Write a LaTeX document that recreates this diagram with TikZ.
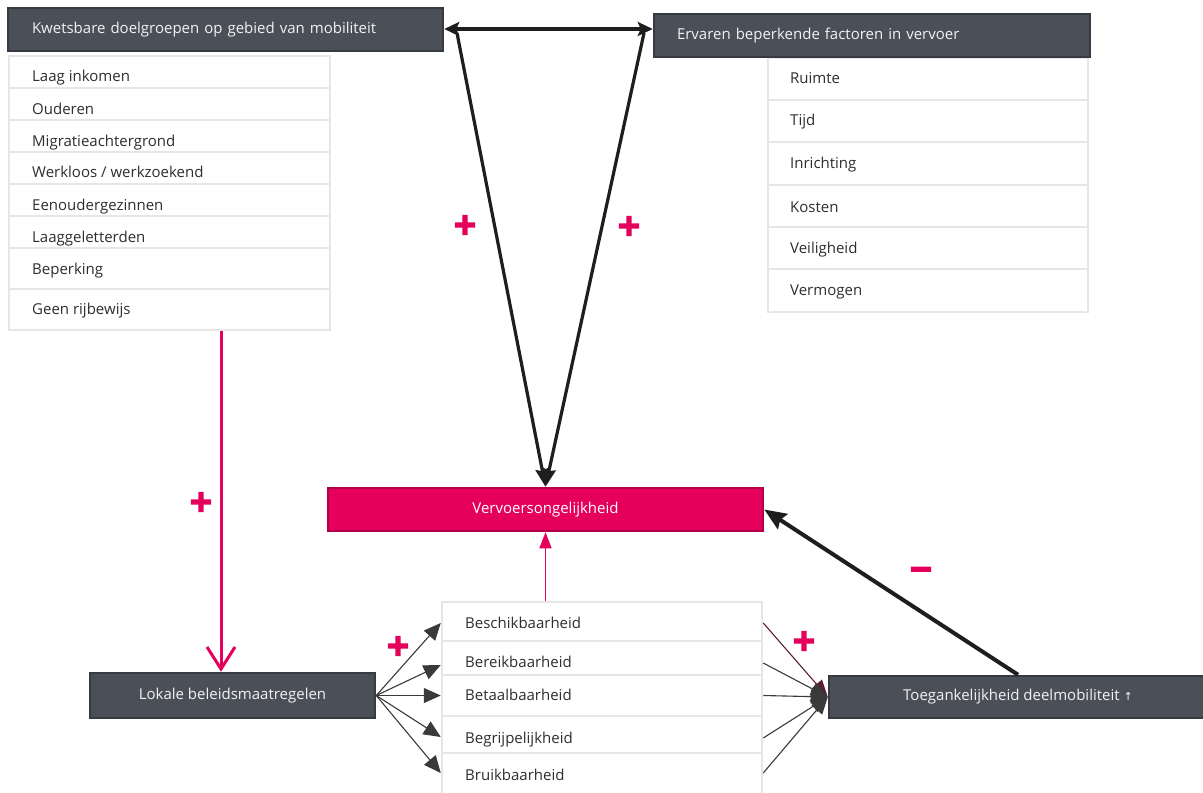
\documentclass[tikz,border=0pt]{standalone}
\usepackage{fontspec}
\setmainfont{Open Sans}
\newfontfamily\symfont{DejaVu Sans}
\newfontfamily\signfont{DejaVu Sans Bold}[FakeBold=7]
\usetikzlibrary{arrows.meta}
\definecolor{darkfill}{HTML}{4B5058}
\definecolor{darkedge}{HTML}{373B41}
\definecolor{boxtext}{HTML}{F2F2F2}
\definecolor{pinkc}{HTML}{E4005B}
\definecolor{pinkedge}{HTML}{B3004A}
\definecolor{listgray}{HTML}{E6E6E6}
\definecolor{listtext}{HTML}{2E2E2E}
\definecolor{arrowc}{HTML}{1E1E1E}
\definecolor{thinc}{HTML}{3A3A3A}
\definecolor{maroon}{HTML}{5A1E32}
\begin{document}
\begin{tikzpicture}[x=1pt,y=-1pt,
  every node/.style={font=\fontsize{15}{18}\selectfont},
  darkbox/.style={draw=darkedge, line width=2.5pt, fill=darkfill, text=boxtext, inner ysep=0pt},
  pinkbox/.style={draw=pinkedge, line width=2.5pt, fill=pinkc, text=white, inner ysep=0pt},
  rowbox/.style={draw=listgray, line width=2.5pt, fill=white, inner sep=0pt},
  rowtext/.style={anchor=west, text=listtext, inner sep=0pt, text height=10pt, text depth=3pt},
  sign/.style={text=pinkc, inner sep=0pt, font=\signfont\fontsize{29}{29}\selectfont},
  thickarrow/.style={draw=arrowc, line width=3.2pt},
  thinarrow/.style={draw=thinc, line width=1.1pt, -{Triangle[length=17pt,width=15pt]}},
  convarrow/.style={draw=thinc, line width=1.1pt, -{Triangle[length=17pt,width=14pt]}}
]
\useasboundingbox (0,0) rectangle (1203,793);
\clip (0,0) rectangle (1203,793);
\fill[white] (0,0) rectangle (1203,793);

% ---------- left list ----------
\node[rowbox, minimum width=321pt, minimum height=32pt] (l1) at (169.5,72) {};
\node[rowbox, minimum width=321pt, minimum height=32pt] (l2) at (169.5,104) {};
\node[rowbox, minimum width=321pt, minimum height=32pt] (l3) at (169.5,136) {};
\node[rowbox, minimum width=321pt, minimum height=32pt] (l4) at (169.5,168) {};
\node[rowbox, minimum width=321pt, minimum height=32pt] (l5) at (169.5,200) {};
\node[rowbox, minimum width=321pt, minimum height=32pt] (l6) at (169.5,232) {};
\node[rowbox, minimum width=321pt, minimum height=41pt] (l7) at (169.5,268.5) {};
\node[rowbox, minimum width=321pt, minimum height=41pt] (l8) at (169.5,309.5) {};
\node[rowtext] (t1) at (32,78) {Laag inkomen};
\node[rowtext] (t2) at (32,110.5) {Ouderen};
\node[rowtext] (t3) at (32,142.5) {Migratieachtergrond};
\node[rowtext] (t4) at (32,174) {Werkloos / werkzoekend};
\node[rowtext] (t5) at (32,206.5) {Eenoudergezinnen};
\node[rowtext] (t6) at (32,238.5) {Laaggeletterden};
\node[rowtext] (t7) at (32,270.5) {Beperking};
\node[rowtext] (t8) at (32,310.5) {Geen rijbewijs};

% ---------- right list ----------
\node[rowbox, minimum width=320pt, minimum height=42pt] (r1) at (928,79) {};
\node[rowbox, minimum width=320pt, minimum height=42pt] (r2) at (928,121) {};
\node[rowbox, minimum width=320pt, minimum height=43pt] (r3) at (928,163.5) {};
\node[rowbox, minimum width=320pt, minimum height=42pt] (r4) at (928,206) {};
\node[rowbox, minimum width=320pt, minimum height=42pt] (r5) at (928,248) {};
\node[rowbox, minimum width=320pt, minimum height=43pt] (r6) at (928,290.5) {};
\node[rowtext] (s1) at (790,79.5) {Ruimte};
\node[rowtext] (s2) at (790,121.5) {Tijd};
\node[rowtext] (s3) at (790,164.5) {Inrichting};
\node[rowtext] (s4) at (790,208.5) {Kosten};
\node[rowtext] (s5) at (790,249.5) {Veiligheid};
\node[rowtext] (s6) at (790,291.5) {Vermogen};

% ---------- centre list ----------
\node[rowbox, minimum width=320pt, minimum height=39pt] (c1) at (602,621.5) {};
\node[rowbox, minimum width=320pt, minimum height=34pt] (c2) at (602,658) {};
\node[rowbox, minimum width=320pt, minimum height=41pt] (c3) at (602,695.5) {};
\node[rowbox, minimum width=320pt, minimum height=37pt] (c4) at (602,734.5) {};
\node[rowbox, minimum width=320pt, minimum height=57pt] (c5) at (602,781.5) {};
\node[rowtext] (u1) at (465,624.5) {Beschikbaarheid};
\node[rowtext] (u2) at (465,663.5) {Bereikbaarheid};
\node[rowtext] (u3) at (465,696.5) {Betaalbaarheid};
\node[rowtext] (u4) at (465,739.5) {Begrijpelijkheid};
\node[rowtext] (u5) at (465,776.5) {Bruikbaarheid};

% ---------- dark and pink boxes ----------
\node[darkbox, minimum width=435pt, minimum height=43pt, text width=387pt, inner xsep=24pt, align=left] (kw) at (225.5,29.5) {Kwetsbare doelgroepen op gebied van mobiliteit};
\node[darkbox, minimum width=436pt, minimum height=43pt, text width=390pt, inner xsep=23pt, align=left] (erv) at (872,35.5) {Ervaren beperkende factoren in vervoer};
\node[pinkbox, minimum width=435pt, minimum height=43pt] (verv) at (545.5,509.5) {Vervoersongelijkheid};
\node[darkbox, minimum width=285pt, minimum height=45pt] (lok) at (232.5,695.5) {Lokale beleidsmaatregelen};
\node[darkbox, minimum width=378pt, minimum height=42pt] (toeg) at (1018,697) {Toegankelijkheid deelmobiliteit {\symfont\fontsize{11}{13}\selectfont ↑}};

% ---------- connectors ----------
\coordinate (vl) at (457,33);
\coordinate (vr) at (644,33);
\coordinate (pk) at (221,0);
\draw[thickarrow, {Stealth[length=15pt,width=14pt,inset=3pt]}-{Stealth[length=15pt,width=14pt,inset=3pt]}] (kw.east |- 0,29) -- (erv.west |- 0,29);
\draw[thickarrow, -{Stealth[length=18pt,width=13pt,inset=2pt]}] (vl) -- (verv.north);
\draw[thickarrow, -{Stealth[length=18pt,width=13pt,inset=2pt]}] (vr) -- (verv.north);
\draw[draw=pinkc, line width=3pt, -{Straight Barb[length=22pt,width=28pt]}] (l8.south -| pk) -- (lok.north -| pk);
\draw[draw=pinkc, line width=1.2pt, -{Triangle[length=16pt,width=12pt]}, pinkc] (c1.north -| verv.south) -- (verv.south);
\draw[thickarrow, line width=4pt, -{Stealth[length=22pt,width=18pt,inset=3pt]}] (toeg.north) -- (verv.east);

\draw[thinarrow] (lok.east) -- ([yshift=-1.5pt]c1.west);
\draw[thinarrow] (lok.east) -- ([yshift=-7pt]c2.west);
\draw[thinarrow] (lok.east) -- (c3.west);
\draw[thinarrow] (lok.east) -- ([yshift=-2.5pt]c4.west);
\draw[thinarrow] (lok.east) -- ([yshift=8.5pt]c5.west);

\draw[convarrow, draw=maroon] ([yshift=-1.5pt]c1.east) -- (toeg.west);
\draw[convarrow] ([yshift=-5pt]c2.east) -- (toeg.west);
\draw[convarrow] (c3.east) -- (toeg.west);
\draw[convarrow] ([yshift=-3.5pt]c4.east) -- (toeg.west);
\draw[convarrow] ([yshift=8.5pt]c5.east) -- (toeg.west);

% ---------- signs ----------
\node[sign] (p1) at (465,225) {+};
\node[sign] (p2) at (629,226) {+};
\node[sign] (p3) at (201,502) {+};
\node[sign] (p4) at (398,646) {+};
\node[sign] (p5) at (804,641) {+};
\node[sign] (m1) at (921,573) {−};
\end{tikzpicture}
\end{document}
